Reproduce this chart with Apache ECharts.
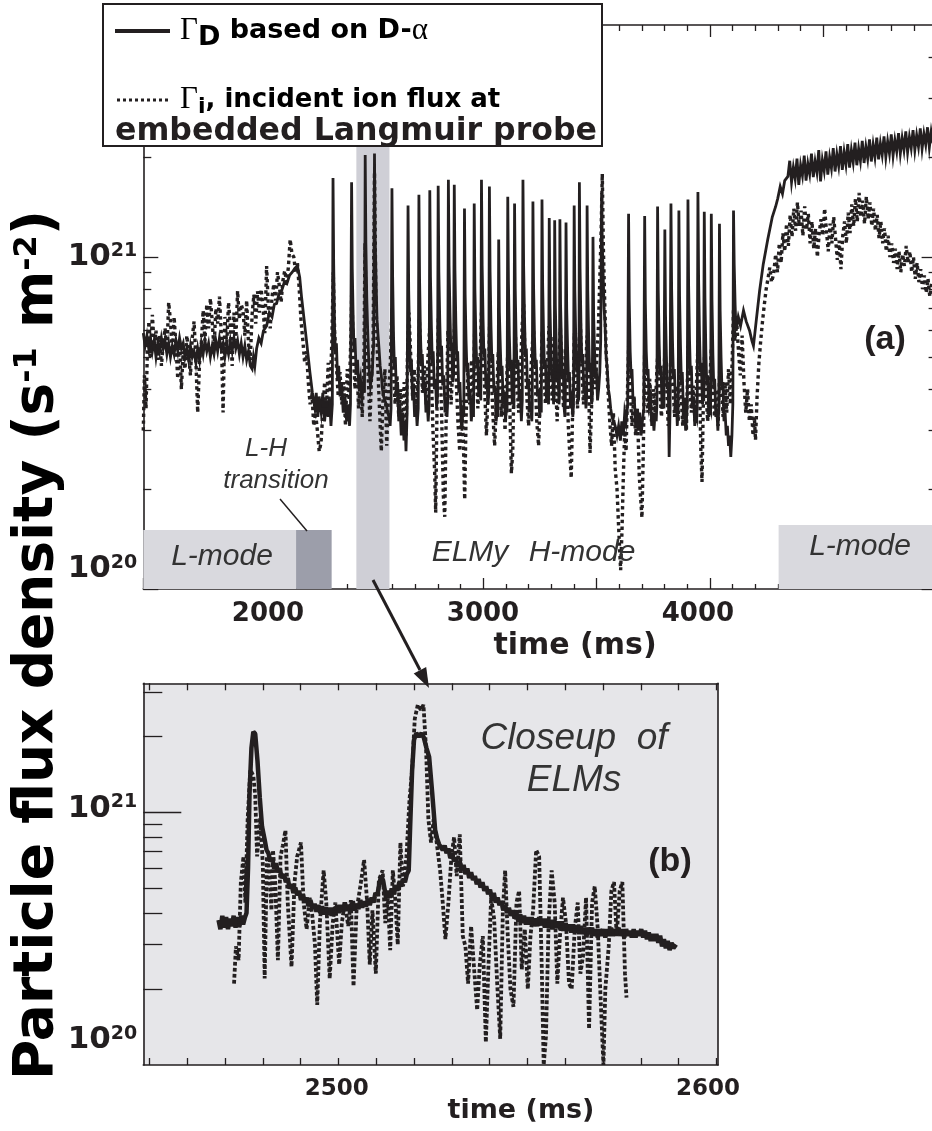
<!DOCTYPE html>
<html><head><meta charset="utf-8">
<script src="https://cdn.jsdelivr.net/npm/echarts@6/dist/echarts.min.js"></script>
<style>html,body{margin:0;padding:0;background:#fff}#c{width:932px;height:1131px}</style>
</head><body><div id="c"></div><script>
// ---------------- DATA (flux in units of 1e20 s^-1 m^-2, time in ms) ----------------
const aSolid = [
[1500,5.9],[1508,5.4],[1516,5.8],[1524,5.3],[1532,5.7],[1540,5.2],[1548,5.6],[1556,5.0],[1564,5.5],[1572,5.2],[1580,5.7],[1588,5.3],[1596,5.6],[1604,5.1],[1612,5.5],[1620,5.0],[1628,5.4],[1636,5.1],[1644,5.6],[1652,5.2],[1660,5.7],[1668,5.3],[1676,5.5],[1684,5.0],[1692,5.3],[1700,4.9],[1708,5.4],[1716,5.0],[1724,5.2],[1732,4.8],[1740,5.3],[1748,4.9],[1756,5.5],[1764,5.1],[1772,5.6],[1780,5.2],[1788,5.5],[1796,5.0],[1804,5.4],[1812,5.1],[1820,5.6],[1828,5.2],[1836,5.7],[1844,5.3],[1852,5.5],[1860,5.0],[1868,5.4],[1876,5.1],[1884,5.6],[1892,5.2],[1900,5.7],[1908,5.3],[1916,5.6],[1924,5.1],[1932,5.5],[1940,5.0],[1948,5.4],[1956,4.9],[1964,5.2],[1972,4.7],[1980,4.6],[1986,5.0],[1992,4.7],[2000,5.3],[2010,5.7],[2020,5.5],[2030,6.0],[2044,6.2],[2056,6.8],[2068,6.6],[2078,7.2],[2088,7.25],[2098,7.7],[2110,7.9],[2122,8.4],[2133,8.3],[2145,8.8],[2157,9.0],[2169,9.25],[2180,9.4],[2190,8.7],[2198,7.6],[2206,6.8],[2220,5.6],[2235,4.5],[2246,3.9],[2257,3.5],
[2263,3.9],[2270,3.3],[2276,3.8],[2285,3.4],[2292,3.9],[2300,3.2],[2307,3.7],[2315,3.3],[2321,3.8],[2328,3.1],[2334,3.6],
[2337,17.3],[2340,9.5],[2344,6.0],[2348,5.1],[2352,5.5],[2357,4.3],[2362,4.7],[2368,3.8],[2375,4.2],[2382,3.4],[2390,3.8],[2397,3.2],[2405,3.6],[2410,3.1],[2414,3.6],
[2419,16.8],[2422,9.2],[2426,6.5],[2430,5.2],[2434,5.7],[2439,4.5],[2445,4.9],[2451,4.0],[2458,4.3],[2464,3.7],[2470,4.1],[2476,3.9],
[2479,20.3],[2482,11],[2486,7.5],[2490,6.0],[2494,5.0],[2498,4.4],[2502,4.1],[2506,4.3],[2510,4.4],[2513,5.0],[2516,5.4],
[2520,20.5],[2523,11.5],[2527,8.5],[2531,6.5],[2535,5.9],[2540,5.3],[2545,4.7],[2550,4.4],[2555,4.0],[2560,3.8],[2566,3.7],[2572,3.6],[2578,3.4],[2584,3.3],[2589,3.1],[2593,3.5],
[2597,16.1],[2600,8.8],[2604,5.8],[2608,4.6],[2612,5.0],[2617,3.8],[2622,4.2],[2627,3.2],[2632,3.6],[2638,2.9],[2645,3.4],[2650,2.8],[2655,3.2],[2659,2.6],[2664,3.4],
[2668,14.3],[2671,7.9],[2675,5.6],[2679,4.5],[2683,4.9],[2688,3.7],[2692,4.1],[2697,3.3],[2703,3.6],[2708,3.1],[2713,3.5],
[2716,15.4],[2719,8.5],[2723,5.8],[2727,4.7],[2731,5.1],[2736,3.9],[2742,4.2],[2747,3.4],[2752,3.7],[2757,3.2],[2761,3.6],
[2764,15.9],[2767,8.7],[2771,6.2],[2775,4.8],[2779,5.2],[2784,4.0],[2789,4.3],[2794,3.5],[2798,3.8],
[2801,16.4],[2804,9.0],[2808,6.4],[2812,5.0],[2816,5.4],[2821,4.1],[2826,4.4],[2831,3.4],[2836,3.8],[2840,3.3],[2843,3.7],
[2846,17.1],[2849,9.4],[2853,6.8],[2857,5.2],[2861,5.5],[2865,4.2],[2869,4.4],
[2872,16.5],[2875,9.1],[2879,6.3],[2883,4.9],[2887,5.2],[2892,3.9],[2897,4.2],[2902,3.2],[2906,3.0],[2910,3.5],[2914,3.3],
[2917,14.0],[2920,7.7],[2924,5.6],[2928,4.5],[2932,4.8],[2937,3.7],[2942,4.0],[2947,3.2],[2952,3.5],[2957,3.3],
[2960,14.5],[2963,8.0],[2967,5.9],[2971,4.7],[2975,5.0],[2980,3.8],[2985,4.1],[2989,3.7],
[2992,17.1],[2995,9.4],[2999,6.5],[3003,5.0],[3007,5.3],[3012,4.0],[3017,4.2],[3021,3.6],[3024,3.9],
[3027,16.3],[3030,9.0],[3034,6.2],[3038,4.8],[3042,5.1],[3047,3.9],[3052,4.1],[3057,3.2],[3061,3.5],[3065,3.3],
[3068,11.3],[3071,6.8],[3075,5.4],[3079,4.4],[3083,4.7],[3088,3.6],[3093,3.9],[3098,3.2],[3102,3.6],[3105,3.4],
[3108,15.2],[3111,8.4],[3115,5.8],[3119,4.6],[3123,4.9],[3128,3.6],[3132,3.9],[3135,3.5],
[3138,14.5],[3141,8.0],[3145,5.6],[3149,4.6],[3153,4.9],[3158,3.7],[3163,4.0],[3168,3.2],[3172,3.7],
[3175,17.1],[3178,9.4],[3182,6.5],[3186,5.0],[3190,5.3],[3195,4.0],[3200,4.3],[3205,3.4],[3210,3.6],[3214,3.2],[3216,3.6],
[3219,14.7],[3222,8.1],[3226,5.7],[3230,4.6],[3234,4.9],[3239,3.8],[3244,4.0],[3249,3.3],[3253,3.6],[3256,3.4],
[3259,14.9],[3262,8.2],[3266,5.8],[3270,4.6],[3274,4.9],[3279,3.7],[3284,4.0],[3288,3.6],
[3291,13.1],[3294,7.2],[3298,5.4],[3302,4.3],[3306,4.6],[3310,3.6],[3313,3.8],
[3315,12.9],[3318,7.1],[3322,5.3],[3326,4.2],[3330,4.5],[3334,3.6],[3336,3.8],
[3338,13.0],[3341,7.2],[3345,5.4],[3349,4.3],[3353,4.6],[3357,3.5],[3360,3.3],[3362,3.7],
[3365,12.7],[3368,7.0],[3372,5.3],[3376,4.2],[3380,4.5],[3385,3.5],[3390,3.7],[3395,3.3],[3398,3.6],
[3401,14.3],[3404,7.9],[3408,5.7],[3412,4.5],[3416,4.8],[3420,3.7],[3422,3.9],
[3424,16.8],[3427,9.2],[3431,6.2],[3435,4.8],[3439,5.1],[3444,3.9],[3449,4.1],[3453,3.5],[3456,3.8],
[3458,14.3],[3461,7.9],[3465,5.7],[3469,4.5],[3473,4.8],[3478,3.6],[3481,3.8],
[3484,11.5],[3487,6.6],[3491,5.2],[3495,4.3],[3499,4.6],[3504,3.7],[3509,4.0],[3514,4.5],[3518,5.6],
[3522,15.6],[3525,11],[3529,8.8],[3533,7.0],[3537,6.3],[3542,5.0],[3547,4.6],[3552,4.0],[3557,3.8],[3562,3.5],[3568,3.3],[3575,3.2],[3582,3.1],[3590,2.9],[3597,3.1],[3605,2.8],[3611,3.2],[3618,2.9],[3624,3.4],[3630,3.2],[3637,3.6],
[3641,13.5],[3644,7.4],[3648,5.2],[3652,4.4],[3656,4.6],[3661,3.6],[3666,3.8],[3672,3.1],[3678,3.4],[3684,3.0],[3690,3.4],[3696,2.9],[3702,3.2],[3708,3.5],
[3712,13.3],[3715,7.3],[3719,5.2],[3723,4.4],[3727,4.6],[3732,3.6],[3738,3.8],[3743,3.1],[3748,3.4],[3753,3.0],[3758,3.4],[3763,3.2],[3766,3.6],
[3769,14.2],[3772,7.8],[3776,5.5],[3780,4.4],[3784,4.7],[3789,3.5],[3793,3.8],[3797,3.5],
[3801,12.1],[3804,6.7],[3808,5.0],[3812,4.0],[3816,4.2],[3820,2.5],[3824,3.5],
[3828,14.5],[3831,8.0],[3835,5.5],[3839,4.3],[3843,4.6],[3848,3.5],[3852,3.7],[3856,3.1],[3860,3.6],
[3863,13.8],[3866,7.6],[3870,5.4],[3874,4.2],[3878,4.5],[3883,3.4],[3888,3.7],[3893,3.0],[3897,3.3],[3900,3.6],
[3903,14.9],[3906,8.2],[3910,5.6],[3914,4.4],[3918,4.7],[3923,3.5],[3928,3.8],[3933,3.1],[3938,3.4],[3942,3.3],[3944,3.6],
[3947,15.7],[3950,8.6],[3954,5.8],[3958,4.5],[3962,4.8],[3967,3.6],[3972,3.8],
[3975,13.7],[3978,7.5],[3982,5.2],[3986,4.1],[3990,4.4],[3995,3.3],[3999,3.6],[4003,3.5],
[4006,13.5],[4009,7.4],[4013,5.1],[4017,4.0],[4021,4.3],[4026,3.3],[4030,3.5],[4035,3.0],[4039,3.5],
[4042,12.6],[4045,6.9],[4049,5.0],[4053,4.0],[4057,4.2],[4062,3.2],[4067,3.4],[4072,2.9],[4077,3.1],[4082,2.7],[4087,2.9],[4092,2.5],[4097,2.9],[4101,3.6],
[4104,13.8],[4107,9.5],[4111,7.2],[4115,6.0],[4125,6.6],[4135,6.2],[4148,6.9],[4160,6.4],[4175,6.0],[4185,5.6],[4192,5.4],[4205,6.5],[4219,7.9],[4235,9.5],[4255,11.3],[4275,13.2],[4290,14.2],[4299,15.0],[4310,16.3],[4320,15.5],[4330,17.0],
[4344,17.5],[4352,19.5],[4360,16.8],[4368,18.6],[4376,17.2],[4384,19.8],[4392,16.5],[4400,18.9],[4408,17.6],[4416,20.2],[4424,17.0],[4432,19.1],[4440,17.8],[4448,20.5],[4456,17.4],[4464,19.4],[4472,18.0],[4480,21.0],[4488,16.9],[4496,19.6],[4504,18.2],[4512,20.8],[4520,17.7],[4528,20.0],[4536,18.5],[4544,21.3],[4552,18.1],[4560,20.4],[4568,18.8],[4576,21.6],[4584,18.3],[4592,20.7],[4600,19.0],[4608,21.9],[4616,18.6],[4624,21.0],[4632,19.3],[4640,22.1],[4648,18.9],[4656,21.2],[4664,19.5],[4672,22.4],[4680,19.2],[4688,21.5],[4696,19.8],[4704,22.6],[4712,19.4],[4720,21.8],[4728,20.0],[4736,22.9],[4744,19.7],[4752,22.0],[4760,20.3],[4768,23.1],[4776,20.0],[4784,22.3],[4792,20.5],[4800,23.4],[4808,20.2],[4816,22.5],[4824,20.8],[4832,23.6],[4840,20.5],[4848,22.8],[4856,21.0],[4864,23.9],[4872,20.7],[4880,23.0],[4888,21.3],[4896,24.1],[4904,21.0],[4912,23.3],[4920,21.5],[4928,24.4],[4936,21.2],[4944,23.5],[4952,21.8],[4960,24.6],[4968,21.4],[4976,23.8],[4984,22.0]
];
const aDotted = [
[1500,3.0],[1505,4.4],[1512,3.5],[1518,5.2],[1525,6.4],[1532,5.0],[1540,6.7],[1548,5.4],[1556,6.0],[1564,4.9],[1572,5.8],[1580,4.7],[1588,5.5],[1596,6.1],[1604,5.2],[1612,7.3],[1620,6.4],[1628,5.1],[1636,6.6],[1644,5.4],[1652,4.3],[1660,5.6],[1668,4.0],[1676,5.2],[1684,4.6],[1692,5.8],[1700,5.1],[1708,4.4],[1716,5.7],[1724,6.4],[1732,4.9],[1740,3.4],[1748,4.8],[1756,5.5],[1764,6.9],[1772,5.6],[1780,7.2],[1788,6.1],[1796,7.5],[1804,6.4],[1812,5.3],[1820,7.0],[1828,6.3],[1836,7.6],[1844,5.9],[1852,3.4],[1860,6.6],[1868,5.4],[1876,7.3],[1884,6.2],[1892,4.7],[1900,6.8],[1908,5.6],[1916,7.9],[1924,6.5],[1932,7.2],[1940,6.9],[1948,5.8],[1956,7.4],[1964,5.5],[1972,4.9],[1980,6.7],[1988,7.7],[1996,6.3],[2004,7.9],[2012,6.8],[2020,8.0],[2028,7.1],[2036,5.9],[2044,9.4],[2052,7.0],[2060,6.1],[2068,7.6],[2076,8.3],[2084,7.4],[2092,9.0],[2100,8.2],[2108,7.3],[2116,8.5],[2124,9.1],[2132,8.4],[2140,9.3],[2148,11.3],[2156,10.2],[2164,10.0],[2172,9.0],[2180,9.6],[2188,8.0],[2196,6.4],[2204,5.6],[2212,4.8],[2220,5.2],[2228,4.2],[2236,3.6],[2244,3.9],[2252,3.1],[2260,3.4],
[2268,3.0],[2276,2.6],[2284,2.75],[2292,3.4],[2300,4.2],[2308,3.5],[2316,4.8],[2324,3.9],[2332,5.6],[2338,9.0],[2344,6.0],[2352,4.7],[2360,3.8],[2368,4.5],[2376,3.6],[2384,4.2],[2392,3.1],[2400,4.6],[2408,3.7],[2416,5.8],[2420,8.2],[2426,5.2],[2434,4.0],[2442,4.8],[2450,3.5],[2458,4.3],[2466,3.3],[2474,5.1],[2478,11.0],[2484,6.0],[2492,4.4],[2500,3.2],[2508,4.6],[2514,5.5],[2520,18.0],[2526,7.5],[2534,4.8],[2542,3.5],[2550,2.6],[2558,3.8],[2566,4.6],[2574,2.7],[2582,3.9],[2590,4.8],[2597,7.0],[2603,4.6],[2611,3.6],[2619,4.4],[2627,3.3],[2635,4.0],[2643,3.0],[2651,4.2],[2659,2.9],[2666,5.2],[2672,6.8],[2680,5.0],[2688,3.8],[2696,4.6],[2704,3.5],[2712,4.3],[2718,6.5],[2724,5.0],[2732,3.9],[2740,4.7],[2748,3.6],[2756,5.0],[2764,6.2],[2770,4.6],[2778,3.0],[2786,2.2],[2790,1.7],[2796,3.6],[2802,6.6],[2808,5.3],[2816,3.4],[2824,1.9],[2830,1.65],[2836,3.2],[2844,6.0],[2850,5.0],[2858,3.6],[2866,4.8],[2874,6.4],[2880,4.4],[2888,3.2],[2896,2.6],[2904,3.7],[2912,2.8],[2918,1.86],[2924,3.3],[2932,4.5],[2940,3.6],[2948,4.9],[2956,3.8],[2962,6.0],[2968,4.7],[2976,3.5],[2984,4.4],[2992,6.8],[2998,5.4],[3006,4.0],[3014,2.9],[3022,4.1],[3028,6.3],[3034,4.6],[3042,3.4],[3050,2.7],[3058,3.6],[3066,5.2],[3072,4.4],[3080,3.3],[3088,4.1],[3096,3.0],[3104,4.4],[3110,5.6],[3116,3.8],[3124,2.23],[3130,2.6],[3136,4.5],[3142,5.8],[3148,4.2],[3156,3.4],[3164,4.6],[3172,6.3],[3178,7.2],[3184,5.0],[3192,3.8],[3200,3.1],[3208,4.3],[3216,5.4],[3222,6.0],[3228,4.5],[3236,3.2],[3244,2.7],[3252,4.0],[3260,6.0],[3266,4.8],[3274,3.6],[3282,4.5],[3290,6.2],[3296,4.9],[3304,3.7],[3312,5.8],[3318,4.3],[3326,3.2],[3334,5.0],[3340,6.1],[3346,4.6],[3354,3.5],[3362,5.3],[3368,4.2],[3376,3.0],[3384,2.4],[3388,2.16],[3394,3.4],[3402,5.9],[3408,4.6],[3416,3.5],[3422,5.4],[3428,6.4],[3434,4.7],[3442,3.6],[3450,4.4],[3458,5.8],[3464,4.4],[3471,2.57],[3478,3.6],[3486,5.0],[3492,4.0],[3500,4.8],[3508,6.2],[3514,8.5],[3520,12.0],[3525,17.8],[3530,10.5],[3536,7.2],[3542,5.2],[3550,4.0],[3558,3.2],[3566,2.7],[3574,3.4],[3582,2.3],[3590,2.0],[3596,1.6],[3602,1.3],[3606,1.14],[3612,1.5],[3618,2.2],[3624,3.0],[3630,2.6],[3636,3.9],[3642,5.6],[3648,4.0],[3656,3.1],[3664,3.8],[3672,2.9],[3680,3.5],[3688,2.2],[3696,1.8],[3700,1.64],[3706,2.6],[3712,5.2],[3718,4.2],[3726,3.4],[3734,4.3],[3742,3.2],[3750,4.0],[3758,3.4],[3766,4.6],[3772,5.4],[3778,4.1],[3786,3.3],[3794,4.0],[3802,5.3],[3808,4.2],[3816,3.1],[3824,4.4],[3830,5.6],[3836,4.3],[3844,3.3],[3852,4.1],[3860,3.2],[3866,5.0],[3872,4.0],[3880,3.1],[3888,3.8],[3896,3.0],[3904,5.4],[3910,4.3],[3918,3.4],[3926,4.1],[3934,3.2],[3942,4.4],[3948,5.6],[3954,4.2],[3960,2.6],[3965,2.1],[3970,3.4],[3976,5.0],[3982,4.0],[3990,3.2],[3998,4.0],[4006,5.3],[4012,4.1],[4020,3.3],[4028,4.0],[4036,3.1],[4044,4.8],[4050,4.0],[4058,3.3],[4066,4.2],[4074,3.4],[4082,4.6],[4090,3.6],[4098,4.8],[4104,7.0],[4110,5.6],[4118,6.4],[4126,5.2],[4134,4.4],[4142,5.8],[4150,4.2],[4158,3.4],[4166,4.0],[4174,3.2],[4182,3.6],[4190,2.9],[4196,3.3],[4201,2.81],[4208,3.8],[4216,4.8],[4224,5.6],[4232,6.4],[4240,7.2],[4248,8.0],[4256,8.6],[4264,9.3],[4272,8.4],[4281,8.9],
[4290,10.2],[4298,9.0],[4306,11.0],[4314,9.6],[4322,11.8],[4330,10.4],[4338,12.6],[4346,10.8],[4354,13.4],[4362,11.5],[4370,14.0],[4378,12.0],[4386,14.6],[4394,12.4],[4402,13.8],[4410,11.6],[4418,14.2],[4426,12.1],[4434,13.5],[4442,11.0],[4450,12.8],[4458,10.6],[4466,12.2],[4474,10.0],[4482,11.8],[4490,13.0],[4498,11.6],[4506,14.0],[4514,12.0],[4522,10.4],[4530,12.6],[4538,11.0],[4546,13.2],[4554,11.4],[4562,9.8],[4570,11.2],[4578,9.2],[4586,11.6],[4594,12.8],[4602,11.0],[4610,13.6],[4618,11.8],[4626,14.4],[4634,12.4],[4642,15.0],[4650,12.8],[4658,15.6],[4666,13.2],[4674,14.8],[4682,12.6],[4690,15.2],[4698,13.0],[4706,14.6],[4714,12.4],[4722,14.0],[4730,12.0],[4738,13.4],[4746,11.4],[4754,12.8],[4762,11.0],[4770,12.2],[4778,10.4],[4786,11.6],[4794,10.0],[4802,11.0],[4810,9.6],[4818,10.6],[4826,9.2],[4834,10.4],[4842,9.0],[4850,10.2],[4858,9.4],[4866,10.8],[4874,9.6],[4882,10.4],[4890,9.0],[4898,10.0],[4906,8.6],[4914,9.6],[4922,8.4],[4930,9.2],[4938,8.0],[4946,8.8],[4954,7.8],[4962,8.6],[4970,7.6],[4978,8.4]
];
const bSolid = [
[2468.3,3.75],[2468.8,3.45],[2469.3,3.9],[2469.8,3.5],[2470.3,3.85],[2470.8,3.45],[2471.3,3.8],[2471.8,3.55],[2472.3,3.9],[2472.8,3.5],[2473.3,3.85],[2473.8,3.55],[2474.3,3.9],[2474.8,3.6],[2475.3,3.85],[2475.7,4.0],[2476.1,6],[2476.5,12],[2477,18],[2477.5,20.9],[2478,20.5],[2478.6,16],[2479.2,11.5],[2479.8,8.8],[2480.5,7.8],[2481,7.1],[2481.5,6.9],[2482,6.4],[2482.5,6.6],[2483,6.0],[2483.5,6.3],[2484,5.8],[2484.5,6.0],[2485,5.5],[2485.6,5.7],[2486.1,5.3],[2486.6,5.5],[2487.1,5.0],[2487.6,5.2],[2488.1,4.8],[2488.6,5.05],[2489.1,4.7],[2489.6,4.9],[2490.1,4.5],[2490.6,4.75],[2491.1,4.4],[2491.6,4.6],[2492.1,4.25],[2492.6,4.5],[2493.2,4.15],[2493.7,4.35],[2494.2,4.05],[2494.7,4.3],[2495.2,4.0],[2495.7,4.25],[2496.2,3.95],[2496.7,4.2],[2497.2,3.95],[2497.7,4.2],[2498.2,3.9],[2498.7,4.2],[2499.2,4.0],[2499.7,4.3],[2500.2,4.0],[2500.7,4.3],[2501.2,4.05],[2501.7,4.4],[2502.2,4.1],[2502.7,4.3],[2503.3,4.1],[2503.8,4.45],[2504.3,4.1],[2504.8,4.35],[2505.3,4.15],[2505.8,4.5],[2506.3,4.2],[2506.8,4.45],[2507.3,4.25],[2507.8,4.55],[2508.3,4.3],[2508.8,4.6],[2509.3,4.4],[2509.8,4.8],[2510.3,4.7],[2510.8,5.2],[2511.3,5.6],[2511.8,5.4],[2512.2,5.0],[2512.6,4.6],[2513.1,4.9],[2513.6,4.6],[2514.1,5.0],[2514.6,4.75],[2515.1,5.15],[2515.6,4.9],[2516.1,5.3],[2516.6,5.1],[2517.1,5.45],[2517.6,5.3],[2518.1,5.7],[2518.6,5.9],[2519,9],[2519.5,14.7],[2520,19.4],[2520.6,20.6],[2521.3,20.0],[2522,20.6],[2522.6,19.8],[2523.3,18],[2524,16.6],[2524.8,12],[2525.6,8.5],[2526.1,7.9],[2526.6,7.5],[2527.1,7.6],[2527.6,7.1],[2528.1,7.4],[2528.6,6.9],[2529.1,7.2],[2529.6,6.6],[2530.1,6.9],[2530.6,6.4],[2531.1,6.6],[2531.6,6.1],[2532.1,6.4],[2532.6,5.9],[2533.1,6.2],[2533.6,5.7],[2534.1,6.0],[2534.6,5.5],[2535.1,5.8],[2535.6,5.4],[2536.1,5.6],[2536.6,5.2],[2537.1,5.45],[2537.6,5.05],[2538.1,5.3],[2538.6,4.9],[2539.1,5.1],[2539.6,4.75],[2540.1,4.95],[2540.6,4.55],[2541.1,4.8],[2541.6,4.4],[2542.1,4.6],[2542.6,4.3],[2543.1,4.45],[2543.6,4.1],[2544.1,4.3],[2544.6,4.0],[2545.1,4.2],[2545.6,3.9],[2546.1,4.1],[2546.6,3.8],[2547.1,4.0],[2547.6,3.7],[2548.1,3.95],[2548.6,3.65],[2549.1,3.9],[2549.6,3.6],[2550.1,3.85],[2550.6,3.6],[2551.1,3.85],[2551.6,3.55],[2552.1,3.8],[2552.6,3.55],[2553.1,3.85],[2553.6,3.6],[2554.1,3.8],[2554.6,3.5],[2555.1,3.8],[2555.6,3.5],[2556.1,3.75],[2556.6,3.45],[2557.1,3.75],[2557.6,3.5],[2558.1,3.7],[2558.6,3.45],[2559.1,3.7],[2559.6,3.4],[2560.1,3.65],[2560.6,3.4],[2561.1,3.6],[2561.6,3.35],[2562.1,3.6],[2562.6,3.35],[2563.1,3.55],[2563.6,3.3],[2564.1,3.55],[2564.6,3.3],[2565.1,3.5],[2565.6,3.25],[2566.1,3.5],[2566.6,3.3],[2567.1,3.5],[2567.6,3.25],[2568.1,3.45],[2568.6,3.2],[2569.1,3.45],[2569.6,3.25],[2570.1,3.45],[2570.6,3.2],[2571.1,3.45],[2571.6,3.25],[2572.1,3.5],[2572.6,3.25],[2573.1,3.45],[2573.6,3.3],[2574.1,3.5],[2574.6,3.25],[2575.1,3.45],[2575.6,3.2],[2576.1,3.45],[2576.6,3.25],[2577.1,3.4],[2577.6,3.2],[2578.1,3.45],[2578.6,3.2],[2579.1,3.4],[2579.6,3.25],[2580.1,3.45],[2580.6,3.2],[2581.1,3.4],[2581.6,3.15],[2582.1,3.35],[2582.6,3.1],[2583.1,3.3],[2583.6,3.1],[2584.1,3.3],[2584.6,3.05],[2585.1,3.25],[2585.6,2.95],[2586.1,3.15],[2586.6,2.9],[2587.1,3.1],[2587.6,2.85],[2588.1,3.05],[2588.6,2.9],[2589.3,3.0]
];
const bDotted = [
[2472.4,2.1],[2472.9,2.95],[2473.6,2.6],[2474.2,5.3],[2474.9,6.7],[2475.4,4.4],[2476,9.4],[2476.7,14.75],[2477.5,14],[2478,11.7],[2478.5,6.7],[2479.3,9.5],[2480,6.3],[2480.5,2.2],[2481.1,6.7],[2481.7,5.9],[2482.3,4.1],[2482.7,7.1],[2483.3,5.3],[2484,2.6],[2484.7,6.7],[2485.3,7.4],[2486,8.5],[2486.6,4.4],[2487.6,2.45],[2488.4,5.3],[2489.1,6.7],[2490.1,7.6],[2490.8,4.4],[2491.6,3.45],[2492.4,4.6],[2493.1,3.9],[2493.8,3.0],[2494.4,1.73],[2495.1,3.65],[2496.1,5.9],[2496.8,4.4],[2497.7,2.2],[2498.5,3.65],[2499.2,4.4],[2500.2,2.5],[2500.9,3.65],[2501.7,4.4],[2502.6,3.55],[2503.3,4.5],[2504,2.05],[2504.8,4.1],[2505.8,5.1],[2506.8,6.5],[2507.6,4.4],[2508.3,2.5],[2509,4.1],[2509.9,2.3],[2510.7,5.4],[2511.7,5.9],[2512.4,3.65],[2513.1,4.6],[2513.7,2.85],[2514.4,5.9],[2515.1,4.4],[2515.7,3.0],[2516.4,7.6],[2517.1,5.1],[2518,6.7],[2518.8,11.2],[2519.5,14.75],[2520.2,23.5],[2521,26.7],[2521.8,25.5],[2522.5,26.7],[2523.2,17.6],[2523.8,9.4],[2524.5,7.6],[2525.2,9.4],[2526,7.6],[2526.9,5.9],[2527.6,4.4],[2528.3,3.15],[2529.1,4.4],[2529.9,6.7],[2530.6,8.0],[2531.3,5.6],[2532.1,8.2],[2532.9,3.24],[2533.6,2.95],[2534.3,2.1],[2535.1,3.55],[2535.9,2.39],[2536.7,1.65],[2537.4,2.5],[2538.2,3.24],[2539,1.23],[2539.7,2.5],[2540.4,4.6],[2541.2,3.77],[2542,2.1],[2542.8,1.27],[2543.5,4.1],[2544.1,5.9],[2544.8,3.24],[2545.5,2.0],[2546.3,1.7],[2547.1,4.4],[2547.8,4.9],[2548.5,2.39],[2549.3,3.45],[2550.1,2.0],[2550.8,3.24],[2551.5,4.1],[2552.3,7.1],[2553.1,6.7],[2553.8,2.39],[2554.3,1.0],[2554.9,1.3],[2555.6,3.65],[2556.4,5.9],[2557.2,4.4],[2557.9,2.1],[2558.6,3.24],[2559.4,4.6],[2560.2,3.65],[2561,2.1],[2561.7,2.0],[2562.5,3.45],[2563.3,4.4],[2564,2.3],[2564.7,2.7],[2565.5,4.6],[2566.3,1.39],[2567.1,4.4],[2567.8,5.1],[2568.6,3.45],[2569.4,1.76],[2570.1,1.0],[2570.6,2.0],[2571.5,2.95],[2572.2,4.9],[2572.9,5.3],[2573.6,3.24],[2574.4,4.9],[2575.1,5.3],[2575.8,2.3],[2576.2,1.85]
];
// regime shading [start ms, end ms, top flux (1e20)]
const regimeLmode1 = [1500, 2174, 1.506];
const regimeLH = [2174, 2331, 1.506];
const regimeCloseup = [2440, 2586, 50];
const regimeLmode2 = [4303, 5000, 1.56];
// tick values
const aXLabels = [2000, 3000, 4000];
const bXLabels = [2500, 2600];
const bXTicks = [2450,2460,2470,2480,2490,2500,2510,2520,2530,2540,2550,2560,2570,2580,2590,2600];
const yMajor = [1, 10];
const yMinorA = [2,3,4,5,6,7,8,9,20,30,40];
const yMinorB = [2,3,4,5,6,7,8,9,20,30];

// ---------------- STYLE ----------------
const INK = '#231f20';
const SANS = 'DejaVu Sans';
const ITAL = 'Liberation Sans';
const chart = echarts.init(document.getElementById('c'), null, {renderer: 'canvas'});

function yLab(shift) {
  return {
    show: true, customValues: yMajor, margin: 6, color: INK,
    formatter: v => (Math.abs(v - 10) < 1e-6 ? '{b|10}{s|21}' : '{b0|10}{s0|20}'),
    rich: {
      b: {fontFamily: SANS, fontWeight: 'bold', fontSize: 31, color: INK, verticalAlign: 'bottom', padding: [0,0,shift[0],0]},
      s: {fontFamily: SANS, fontWeight: 'bold', fontSize: 19, color: INK, verticalAlign: 'bottom', padding: [0,0,shift[0]+12,0]},
      b0: {fontFamily: SANS, fontWeight: 'bold', fontSize: 31, color: INK, verticalAlign: 'bottom', padding: [0,0,shift[1],0]},
      s0: {fontFamily: SANS, fontWeight: 'bold', fontSize: 19, color: INK, verticalAlign: 'bottom', padding: [0,0,shift[1]+12,0]}
    }
  };
}
const axLine = {show: true, lineStyle: {color: INK, width: 1.6}};
const noLine = {show: false};
function logY(grid, max, pos, ticks, len, label, line) {
  return {type: 'log', logBase: 10, gridIndex: grid, min: 1, max: max, position: pos,
    axisLine: line ? axLine : noLine,
    axisTick: {show: true, inside: true, length: len, customValues: ticks, lineStyle: {color: INK, width: 1.3}},
    axisLabel: label || {show: false}, splitLine: {show: false}, minorTick: {show: false}};
}
const areaStyle = c => ({color: c, opacity: 1});
const plain = v => String(v);

const option = {
  animation: false,
  backgroundColor: '#ffffff',
  grid: [
    {left: 143.3, top: 25, width: 793.3, height: 564, outerBoundsMode: 'none'},
    {left: 143.3, top: 683.3, width: 574.7, height: 381.7, show: true, backgroundColor: '#e6e6e9', borderWidth: 0, outerBoundsMode: 'none'}
  ],
  xAxis: [
    {type: 'value', gridIndex: 0, min: 1500, max: 5000, interval: 500, position: 'bottom', axisLine: axLine,
     axisTick: {inside: true, length: 11, lineStyle: {color: INK, width: 1.3}},
     minorTick: {show: true, splitNumber: 5, length: 5, lineStyle: {color: INK, width: 1.3}},
     axisLabel: {show: false}, splitLine: {show: false}, minorSplitLine: {show: false}},
    {type: 'value', gridIndex: 0, min: 1500, max: 5000, interval: 500, position: 'top', axisLine: axLine,
     axisTick: {inside: true, length: 12, lineStyle: {color: INK, width: 1.3}},
     minorTick: {show: true, splitNumber: 5, length: 6, lineStyle: {color: INK, width: 1.3}},
     axisLabel: {show: false}, splitLine: {show: false}},
    {type: 'value', gridIndex: 0, min: 1420, max: 5110, position: 'bottom', axisLine: noLine, axisTick: {show: false},
     axisLabel: {show: true, customValues: aXLabels, formatter: plain, margin: 12, fontFamily: SANS, fontWeight: 'bold', fontSize: 26, color: INK},
     splitLine: {show: false}},
    {type: 'value', gridIndex: 1, min: 2448.4, max: 2600.4, position: 'bottom', axisLine: axLine,
     axisTick: {inside: true, length: 7, customValues: bXTicks, lineStyle: {color: INK, width: 1.3}},
     axisLabel: {show: false}, splitLine: {show: false}},
    {type: 'value', gridIndex: 1, min: 2448.4, max: 2600.4, position: 'top', axisLine: axLine,
     axisTick: {inside: true, length: 7, customValues: bXTicks, lineStyle: {color: INK, width: 1.3}},
     axisLabel: {show: false}, splitLine: {show: false}},
    {type: 'value', gridIndex: 1, min: 2447.9, max: 2602.7, position: 'bottom', axisLine: noLine, axisTick: {show: false},
     axisLabel: {show: true, customValues: bXLabels, formatter: plain, margin: 13, fontFamily: SANS, fontWeight: 'bold', fontSize: 23, color: INK},
     splitLine: {show: false}}
  ],
  yAxis: [
    logY(0, 50, 'left', yMajor, 15, yLab([0, 40]), true),
    logY(0, 50, 'left', yMinorA, 8, null, false),
    logY(0, 50, 'right', yMajor, 15, null, true),
    logY(0, 50, 'right', yMinorA, 8, null, false),
    logY(1, 32.5, 'left', [10], 38, yLab([8, 50]), true),
    logY(1, 32.5, 'left', yMinorB, 19, null, false),
    logY(1, 32.5, 'right', [], 1, null, true)
  ],
  series: [
    {type: 'line', xAxisIndex: 0, yAxisIndex: 0, data: [[1500, 1]], symbol: 'none', lineStyle: {opacity: 0}, z: 1, silent: true,
     markArea: {silent: true, data: [
       [{xAxis: regimeLmode1[0], yAxis: 1, itemStyle: areaStyle('#d9d9de')}, {xAxis: regimeLmode1[1], yAxis: regimeLmode1[2]}],
       [{xAxis: regimeLH[0], yAxis: 1, itemStyle: areaStyle('#9c9eaa')}, {xAxis: regimeLH[1], yAxis: regimeLH[2]}],
       [{xAxis: regimeCloseup[0], yAxis: 1, itemStyle: areaStyle('#cfcfd6')}, {xAxis: regimeCloseup[1], yAxis: regimeCloseup[2]}],
       [{xAxis: regimeLmode2[0], yAxis: 1, itemStyle: areaStyle('#d9d9de')}, {xAxis: regimeLmode2[1], yAxis: regimeLmode2[2]}]
     ]}},
    {type: 'line', name: 'GammaD', xAxisIndex: 0, yAxisIndex: 0, data: aSolid, symbol: 'none', z: 3,
     lineStyle: {color: INK, width: 2.8, join: 'miter'}},
    {type: 'line', name: 'Gammai', xAxisIndex: 0, yAxisIndex: 0, data: aDotted, symbol: 'none', z: 4,
     lineStyle: {color: INK, width: 3.4, type: [3.4, 3.4], cap: 'butt'}},
    {type: 'line', name: 'GammaD b', xAxisIndex: 3, yAxisIndex: 4, data: bSolid, symbol: 'none', z: 3,
     lineStyle: {color: INK, width: 4.5}},
    {type: 'line', name: 'Gammai b', xAxisIndex: 3, yAxisIndex: 4, data: bDotted, symbol: 'none', z: 4,
     lineStyle: {color: INK, width: 3.8, type: [3.8, 2.2], cap: 'butt'}}
  ],
  graphic: [
    // legend box
    {type: 'rect', z: 100, shape: {x: 103, y: 4, width: 499, height: 142}, style: {fill: '#fff', stroke: INK, lineWidth: 2}},
    {type: 'line', z: 101, shape: {x1: 115, y1: 31, x2: 170, y2: 31}, style: {stroke: INK, lineWidth: 4}},
    {type: 'line', z: 101, shape: {x1: 117, y1: 100, x2: 168, y2: 100}, style: {stroke: INK, lineWidth: 3, lineDash: [3, 3]}},
    {type: 'text', z: 101, x: 180, y: 31, style: {text: '{g|Γ}{d|D}{t| based on D-}{a|α}', verticalAlign: 'middle', rich: {
      g: {fontFamily: 'Liberation Serif', fontSize: 31, color: INK},
      d: {fontFamily: SANS, fontWeight: 'bold', fontSize: 27, color: INK, verticalAlign: 'top', padding: [14, 0, 0, 0]},
      t: {fontFamily: SANS, fontWeight: 'bold', fontSize: 27, color: INK},
      a: {fontFamily: 'Liberation Serif', fontSize: 31, color: INK}}}},
    {type: 'text', z: 101, x: 180, y: 100, style: {text: '{g|Γ}{d|i}{t|, incident ion flux at}', verticalAlign: 'middle', rich: {
      g: {fontFamily: 'Liberation Serif', fontSize: 31, color: INK},
      d: {fontFamily: SANS, fontWeight: 'bold', fontSize: 22, color: INK, verticalAlign: 'top', padding: [14, 0, 0, 0]},
      t: {fontFamily: SANS, fontWeight: 'bold', fontSize: 26, color: INK}}}},
    {type: 'text', z: 101, x: 115, y: 132, style: {text: 'embedded Langmuir probe', fontFamily: SANS, fontWeight: 'bold', fontSize: 31.6, fill: INK, verticalAlign: 'middle'}},
    // y-axis title
    {type: 'text', z: 50, x: 38, y: 645, rotation: Math.PI / 2, style: {
      text: '{t|Particle flux density (s}{s|-1}{t| m}{s|-2}{t|)}', align: 'center', verticalAlign: 'middle', rich: {
        t: {fontFamily: SANS, fontWeight: 'bold', fontSize: 55, color: INK, verticalAlign: 'bottom'},
        s: {fontFamily: SANS, fontWeight: 'bold', fontSize: 32, color: INK, verticalAlign: 'bottom', padding: [0, 0, 22, 0]}}}},
    // x-axis titles
    {type: 'text', z: 50, x: 575, y: 646, style: {text: 'time (ms)', fontFamily: SANS, fontWeight: 'bold', fontSize: 30, fill: INK, align: 'center', verticalAlign: 'middle'}},
    {type: 'text', z: 50, x: 521, y: 1111, style: {text: 'time (ms)', fontFamily: SANS, fontWeight: 'bold', fontSize: 27, fill: INK, align: 'center', verticalAlign: 'middle'}},
    // annotations panel (a)
    {type: 'text', z: 50, x: 222, y: 557, style: {text: 'L-mode', fontFamily: ITAL, fontStyle: 'italic', fontSize: 30, fill: '#333', align: 'center', verticalAlign: 'middle'}},
    {type: 'text', z: 50, x: 266, y: 449, style: {text: 'L-H', fontFamily: ITAL, fontStyle: 'italic', fontSize: 26, fill: '#333', align: 'center', verticalAlign: 'middle'}},
    {type: 'text', z: 50, x: 276, y: 481, style: {text: 'transition', fontFamily: ITAL, fontStyle: 'italic', fontSize: 26, fill: '#333', align: 'center', verticalAlign: 'middle'}},
    {type: 'line', z: 50, shape: {x1: 280, y1: 499, x2: 307, y2: 531}, style: {stroke: INK, lineWidth: 1.5}},
    {type: 'text', z: 50, x: 470, y: 553, style: {text: 'ELMy', fontFamily: ITAL, fontStyle: 'italic', fontSize: 30, fill: '#333', align: 'center', verticalAlign: 'middle'}},
    {type: 'text', z: 50, x: 582, y: 553, style: {text: 'H-mode', fontFamily: ITAL, fontStyle: 'italic', fontSize: 30, fill: '#333', align: 'center', verticalAlign: 'middle'}},
    {type: 'text', z: 50, x: 860, y: 547, style: {text: 'L-mode', fontFamily: ITAL, fontStyle: 'italic', fontSize: 30, fill: '#333', align: 'center', verticalAlign: 'middle'}},
    {type: 'text', z: 50, x: 885, y: 340, style: {text: '(a)', fontFamily: ITAL, fontWeight: 'bold', fontSize: 34, fill: INK, align: 'center', verticalAlign: 'middle'}},
    // arrow
    {type: 'line', z: 50, shape: {x1: 373, y1: 580, x2: 420, y2: 670}, style: {stroke: INK, lineWidth: 3}},
    {type: 'polygon', z: 50, shape: {points: [[413.7, 673.4], [426.2, 667.0], [429, 688]]}, style: {fill: INK}},
    // annotations panel (b)
    {type: 'text', z: 50, x: 574, y: 739, style: {text: 'Closeup  of', fontFamily: ITAL, fontStyle: 'italic', fontSize: 37, fill: '#333', align: 'center', verticalAlign: 'middle'}},
    {type: 'text', z: 50, x: 574, y: 781, style: {text: 'ELMs', fontFamily: ITAL, fontStyle: 'italic', fontSize: 37, fill: '#333', align: 'center', verticalAlign: 'middle'}},
    {type: 'text', z: 50, x: 670, y: 862, style: {text: '(b)', fontFamily: ITAL, fontWeight: 'bold', fontSize: 34, fill: INK, align: 'center', verticalAlign: 'middle'}}
  ]
};
chart.setOption(option);
</script></body></html>
